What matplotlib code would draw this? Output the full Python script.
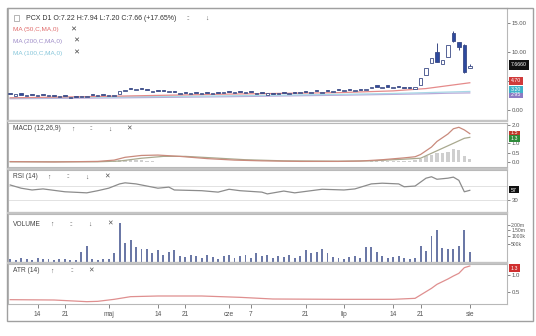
import matplotlib
matplotlib.use('Agg')
import matplotlib.pyplot as plt
import numpy as np
import pandas as pd
from matplotlib.patches import Rectangle

plt.rcParams['font.family'] = ['Liberation Sans', 'DejaVu Sans']

W, H = 536, 336

# ---------------- data ----------------
dates = pd.bdate_range('2014-04-07', '2014-08-01')
tick_dates = ['2014-04-14', '2014-04-21', '2014-05-01', '2014-05-14', '2014-05-21', '2014-06-01',
              '2014-06-07', '2014-06-21', '2014-07-01', '2014-07-14', '2014-07-21', '2014-08-01']
tick_labels = ['14', '21', 'maj', '14', '21', 'cze', '7', '21', 'lip', '14', '21', 'sie']

opens = [2.92, 2.50, 2.86, 2.42, 2.84, 2.40, 2.82, 2.35, 2.65, 2.22,
         2.55, 2.12, 2.50, 2.18, 2.30, 2.75, 2.38, 2.82, 2.40, 2.46,
         2.75, 3.32, 3.80, 3.38, 3.75, 3.60, 3.12, 3.48, 3.40, 3.05,
         3.25, 2.75, 3.12, 2.70, 3.08, 2.72, 3.15, 2.70, 3.13, 2.90,
         3.32, 2.88, 3.30, 2.85, 3.30, 2.82, 3.10, 2.65, 3.02, 2.68,
         3.05, 2.70, 3.15, 2.90, 3.35, 2.98, 3.40, 2.95, 3.45, 3.10,
         3.60, 3.25, 3.62, 3.28, 3.70, 3.50, 3.80, 4.25, 3.82, 4.25,
         3.80, 4.18, 4.00, 3.95, 3.70, 4.31, 6.03, 8.10, 10.00, 7.93,
         9.14, 13.28, 11.72, 11.20, 7.22]
closes = [2.72, 2.70, 2.66, 2.62, 2.64, 2.60, 2.62, 2.55, 2.45, 2.40,
          2.35, 2.30, 2.32, 2.38, 2.50, 2.55, 2.58, 2.62, 2.60, 2.66,
          3.25, 3.52, 3.60, 3.58, 3.55, 3.40, 3.30, 3.28, 3.20, 3.25,
          3.05, 2.95, 2.92, 2.90, 2.88, 2.92, 2.95, 2.90, 2.93, 3.10,
          3.12, 3.08, 3.10, 3.05, 3.10, 3.02, 2.90, 2.85, 2.82, 2.88,
          2.85, 2.90, 2.95, 3.10, 3.15, 3.18, 3.20, 3.15, 3.25, 3.30,
          3.40, 3.45, 3.42, 3.48, 3.50, 3.70, 4.00, 4.05, 4.02, 4.05,
          4.00, 3.98, 3.80, 3.75, 3.90, 5.52, 7.24, 8.97, 8.28, 8.62,
          11.20, 11.90, 10.86, 6.51, 7.66]
# visible wicks only: index -> (high, low)
wicks = {78: (11.55, 8.20), 81: (13.60, 11.80), 82: (11.80, 10.30), 83: (11.30, 6.40), 84: (7.94, 7.20)}

volume = [14e3, 8e3, 25e3, 10e3, 8e3, 25e3, 14e3, 10e3, 8e3, 14e3,
          10e3, 8e3, 8e3, 144e3, 400e3, 14e3, 8e3, 10e3, 14e3, 109e3,
          2260e3, 510e3, 690e3, 350e3, 240e3, 240e3, 124e3, 200e3, 65e3, 160e3,
          200e3, 47e3, 39e3, 65e3, 47e3, 25e3, 65e3, 39e3, 14e3, 47e3,
          65e3, 25e3, 47e3, 82e3, 25e3, 109e3, 47e3, 65e3, 25e3, 47e3,
          39e3, 65e3, 25e3, 47e3, 200e3, 124e3, 144e3, 240e3, 109e3, 39e3,
          25e3, 14e3, 39e3, 47e3, 25e3, 310e3, 310e3, 144e3, 47e3, 25e3,
          39e3, 47e3, 25e3, 14e3, 25e3, 400e3, 185e3, 980e3, 1490e3, 270e3,
          240e3, 240e3, 400e3, 1490e3, 144e3]

ma_x = [0, 20, 40, 60, 70, 76, 80, 84]
ma50 = [2.10, 2.40, 2.75, 3.00, 3.30, 3.70, 4.20, 4.70]
ma200 = [1.95, 2.10, 2.30, 2.55, 2.70, 2.80, 2.90, 2.95]
ma100 = [2.05, 2.25, 2.45, 2.70, 2.85, 3.00, 3.10, 3.20]

macd_x = [0, 8, 16, 19, 21, 24, 27, 31, 36, 41, 46, 53, 60, 64, 68, 72, 74, 75, 77, 78, 79, 80, 81, 82, 83, 84]
macd = [0.02, 0.00, 0.03, 0.10, 0.25, 0.35, 0.37, 0.30, 0.18, 0.10, 0.06, 0.03, 0.03, 0.05, 0.12, 0.22, 0.28,
        0.40, 0.80, 1.10, 1.30, 1.50, 1.78, 1.86, 1.72, 1.52]
signal_x = [0, 16, 20, 24, 28, 32, 37, 43, 50, 60, 66, 72, 75, 78, 81, 83, 84]
signal = [0.01, 0.01, 0.05, 0.20, 0.30, 0.30, 0.22, 0.12, 0.06, 0.04, 0.06, 0.15, 0.20, 0.60, 1.00, 1.27, 1.32]
hist_x = [19, 20, 21, 22, 23, 24, 25, 26, 66, 67, 68, 69, 70, 71, 72, 73, 74,
          75, 76, 77, 78, 79, 80, 81, 82, 83, 84]
hist = [0.05, 0.08, 0.10, 0.12, 0.10, 0.08, 0.06, 0.04, 0.03, 0.04, 0.05, 0.05, 0.06, 0.06, 0.07, 0.07, 0.08,
        0.15, 0.30, 0.40, 0.50, 0.50, 0.55, 0.70, 0.65, 0.30, 0.15]

rsi_x = [0, 2, 4, 6, 10, 14, 16, 18, 20, 21, 23, 25, 27, 29, 30, 35, 38, 40, 42, 46, 47, 50, 52, 55, 57,
         61, 63, 66, 68, 71, 72, 74, 76, 77, 78, 80, 81, 82, 83, 84]
rsi = [72, 63, 58, 61, 53, 50, 56, 63, 75, 78, 75, 69, 63, 66, 58, 56, 52, 60, 56, 52, 47, 55, 50, 56, 60,
       58, 61, 75, 77, 75, 67, 69, 91, 95, 88, 91, 94, 85, 53, 57]

atr_x = [0, 8, 14, 16, 19, 22, 27, 35, 42, 48, 60, 70, 74, 76, 77, 78, 80, 81, 82, 83, 84]
atr = [0.26, 0.25, 0.20, 0.21, 0.27, 0.35, 0.37, 0.37, 0.33, 0.28, 0.27, 0.27, 0.30, 0.50, 0.60, 0.72, 0.88,
       0.97, 1.05, 1.22, 1.27]

# ---------------- figure ----------------
fig = plt.figure(figsize=(W / 100, H / 100), dpi=100)
fig.patch.set_facecolor('white')

GRAY = '#b8b8b8'
TXT = '#555555'
x0, x1 = -0.4, 90.8


def px(x, y):
    return x / W, 1 - y / H


def panel(top, bottom):
    ax = fig.add_axes([8 / W, 1 - bottom / H, (507 - 8) / W, (bottom - top) / H])
    ax.set_xlim(x0, x1)
    for s in ax.spines.values():
        s.set_color(GRAY)
        s.set_linewidth(0.8)
    ax.yaxis.tick_right()
    ax.tick_params(axis='y', labelsize=4.3, colors=TXT, length=2, width=0.5, pad=1.5)
    ax.tick_params(axis='x', bottom=False, labelbottom=False)
    return ax


def label(x, y, s, color='#444444', size=4.8, weight='normal'):
    fig.text(*px(x, y), s, fontsize=size, color=color, va='center', ha='left', fontweight=weight)


def tag(y, s, fc, w=16, h=8, tc='white'):
    fig.patches.append(Rectangle(px(509, y + h / 2), w / W, h / H, transform=fig.transFigure,
                                 facecolor=fc, edgecolor='none', zorder=5))
    fig.text(*px(509 + w / 2, y), s, fontsize=3.8, color=tc, ha='center', va='center', zorder=6)


def icons(y, xs, with_down=True):
    marks = ['\u2191', '::', '\u2193', '\u2715'] if with_down else ['\u2191', '::', '\u2715']
    for xx, m in zip(xs, marks):
        label(xx, y, m, color='#555555', size=4.8)


# main price panel
ax = panel(8, 120)
ax.set_ylim(-1.72, 17.59)
ax.set_yticks([0, 5, 10, 15])
ax.set_yticklabels(['0.00', '', '10.00', '15.00'])
ax.set_xticks([])
ax.plot(ma_x, ma200, color='#b9a8d8', lw=0.9)
ax.plot(ma_x, ma100, color='#a8d8e6', lw=0.9)
ax.plot(ma_x, ma50, color='#e58a8a', lw=0.9)
for i, (o, c) in enumerate(zip(opens, closes)):
    up = c >= o
    if i in wicks:
        hi, lo = wicks[i]
        ax.vlines(i, lo, hi, color='#3a4a86', lw=0.7, zorder=2)
    ax.add_patch(Rectangle((i - 0.32, min(o, c)), 0.64, abs(c - o),
                           facecolor='white' if up else '#2e4a9e', edgecolor='#3a4a86', lw=0.6, zorder=3))

# MACD
axm = panel(123, 167)
axm.set_ylim(-0.27, 2.09)
axm.set_yticks([0, 0.5, 1.0, 2.0])
axm.set_yticklabels(['0.0', '0.5', '1.0', '2.0'])
axm.set_xticks([])
axm.bar(hist_x, hist, width=0.6, color='#cfcfcf', zorder=1)
axm.plot(signal_x, signal, color='#a9a98f', lw=0.9)
axm.plot(macd_x, macd, color='#c98a7c', lw=0.9)

# RSI
axr = panel(170, 212)
axr.set_ylim(-3.6, 113.9)
axr.set_yticks([30])
axr.set_yticklabels(['30'])
axr.set_xticks([])
axr.axhline(70, color='#dddddd', lw=0.6)
axr.axhline(30, color='#dddddd', lw=0.6)
axr.plot(rsi_x, rsi, color='#8c8c8c', lw=0.9)

# volume (square-root scale)
axv = panel(214, 262)
axv.set_yscale('function', functions=(lambda v: np.sqrt(np.clip(v, 0, None)), lambda s: np.square(s)))
axv.set_ylim(0, 3.39e6)
axv.set_yticks([5e5, 1e6, 1.5e6, 2e6])
axv.set_yticklabels(['500k', '1000k', '1.50m', '2.00m'])
axv.minorticks_off()
axv.tick_params(axis='y', labelsize=3.6, pad=1)
axv.set_xticks([])
axv.bar(range(len(volume)), volume, width=0.35, color='#6b78a6')

# ATR
axa = panel(264, 304)
axa.set_ylim(0.13, 1.33)
axa.set_yticks([0.5, 1.0])
axa.set_yticklabels(['0.5', '1.0'])
axa.plot(atr_x, atr, color='#df8f8f', lw=0.9)
tick_pos = dates.get_indexer(pd.to_datetime(tick_dates), method='nearest')
axa.set_xticks(tick_pos)
axa.set_xticklabels(tick_labels)
axa.tick_params(axis='x', bottom=True, labelbottom=True, labelsize=4.8, colors=TXT,
                length=3, width=0.5, pad=2)

# panel separators and outer frame
for ys in [121.5, 168.5, 213, 263]:
    fig.add_artist(plt.Line2D([8 / W, 507 / W], [1 - ys / H] * 2, color='#c4c4c4', lw=1.6))
fig.patches.append(Rectangle(px(7, 321), 526 / W, 313 / H, transform=fig.transFigure,
                             facecolor='none', edgecolor='#a0a0a0', lw=1.0))

# header texts
fig.patches.append(Rectangle(px(14, 21), 5 / W, 6 / H, transform=fig.transFigure,
                             facecolor='none', edgecolor='#999999', lw=0.5))
label(26, 18, 'PCX D1 O:7.22 H:7.94 L:7.20 C:7.66 (+17.65%)', color='#333333', size=5)
label(186, 18, '::', color='#555555')
label(205, 18, '\u2193', color='#555555')
label(13, 30, 'MA (50,C,MA,0)', color='#e06a6a', size=4.6)
label(70, 30, '\u2715', color='#444444', size=5.2)
label(13, 41, 'MA (200,C,MA,0)', color='#9e8cc8', size=4.6)
label(73, 41, '\u2715', color='#444444', size=5.2)
label(13, 53, 'MA (100,C,MA,0)', color='#86c6da', size=4.6)
label(73, 53, '\u2715', color='#444444', size=5.2)

label(13, 129, 'MACD (12,26,9)')
icons(129, [71, 89, 108, 126])
label(13, 177, 'RSI (14)')
icons(177, [47, 66, 85, 104])
label(13, 224, 'VOLUME')
icons(224, [50, 69, 88, 107])
label(13, 271, 'ATR (14)')
icons(271, [50, 70, 88], with_down=False)

# value tags on the right
tag(65, '7.6660', '#111111', w=20, h=9)
tag(81, '4.70', '#d03a3a', w=14, h=7)
tag(89.5, '3.20', '#3fb3c9', w=14, h=7)
tag(95, '2.95', '#8d7cc4', w=14, h=5)
tag(133, '1.5', '#c0392b', w=11, h=5)
tag(139, '1.3', '#2e8b3a', w=11, h=7)
tag(190, '57', '#111111', w=10, h=7)
tag(268, '1.3', '#d03030', w=11, h=8)

fig.savefig('out.png', dpi=100, facecolor='white')
